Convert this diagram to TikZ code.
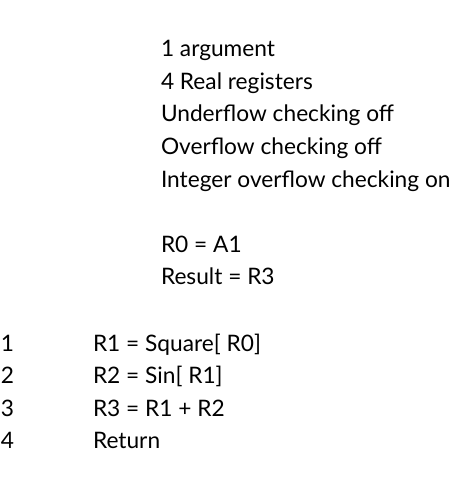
\documentclass[tikz,border=0pt]{standalone}
\usepackage{fontspec}
\setmainfont{Lato}
\begin{document}
\begin{tikzpicture}[x=1pt,y=-1pt,
  txt/.style={anchor=base west,inner sep=0pt,outer sep=0pt,font=\fontsize{22.7}{27}\selectfont}]
\useasboundingbox (0,0) rectangle (453,489);
\node[txt] (h1) at (161,57) {1 argument};
\node[txt] (h2) at (161,89.5) {4 Real registers};
\node[txt] (h3) at (161,122) {Underflow checking off};
\node[txt] (h4) at (161,154.5) {Overflow checking off};
\node[txt] (h5) at (161,187) {Integer overflow checking on};
\node[txt] (h6) at (161,252) {R0 = A1};
\node[txt] (h7) at (161,284.5) {Result = R3};
\node[txt] (n1) at (1,351) {1};
\node[txt] (n2) at (1,383.5) {2};
\node[txt] (n3) at (1,416) {3};
\node[txt] (n4) at (1,448.5) {4};
\node[txt] (c1) at (93,351) {R1 = Square[ R0]};
\node[txt] (c2) at (93,383.5) {R2 = Sin[ R1]};
\node[txt] (c3) at (93,416) {R3 = R1 + R2};
\node[txt] (c4) at (93,448.5) {Return};
\end{tikzpicture}
\end{document}
